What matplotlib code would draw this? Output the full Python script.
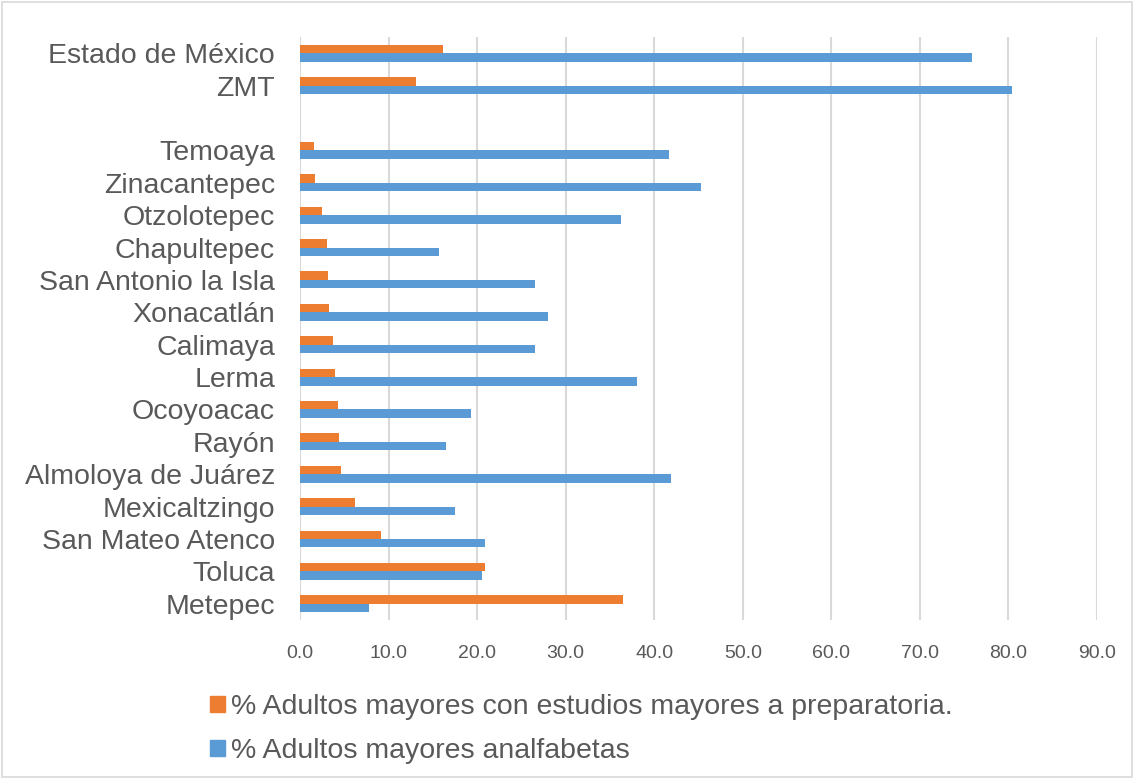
import matplotlib
matplotlib.use("Agg")
import matplotlib.pyplot as plt
from matplotlib.patches import Rectangle, Patch

# Categories listed bottom to top
categories = ["Metepec", "Toluca", "San Mateo Atenco", "Mexicaltzingo", "Almoloya de Juárez",
              "Rayón", "Ocoyoacac", "Lerma", "Calimaya", "Xonacatlán", "San Antonio la Isla",
              "Chapultepec", "Otzolotepec", "Zinacantepec", "Temoaya", "", "ZMT", "Estado de México"]
estudios = [36.5, 20.9, 9.1, 6.2, 4.6, 4.4, 4.3, 3.9, 3.7, 3.3, 3.2, 3.06, 2.5, 1.7, 1.6, None, 13.05, 16.2]
analfabetas = [7.8, 20.5, 20.9, 17.5, 41.9, 16.5, 19.3, 38.1, 26.5, 28.0, 26.5, 15.7, 36.2, 45.3, 41.7, None, 80.4, 75.9]
xticks = [0, 10, 20, 30, 40, 50, 60, 70, 80, 90]
series_names = ["% Adultos mayores con estudios mayores a preparatoria.", "% Adultos mayores analfabetas"]

ORANGE = "#ED7D31"
BLUE = "#5B9BD5"
TXT = "#595959"

plt.rcParams['font.family'] = ['Liberation Sans', 'DejaVu Sans']

fig = plt.figure(figsize=(11.34, 7.79), dpi=100)
fig.patches.append(Rectangle((0.002, 0.002), 0.996, 0.996, transform=fig.transFigure,
                             fill=False, edgecolor="#D9D9D9", linewidth=1.2))
ax = fig.add_axes([300/1134, 1-620/779, 797/1134, 583/779])

h = 0.26
ys = list(range(len(categories)))
eo_y = [y + h/2 for y, v in zip(ys, estudios) if v is not None]
eo_v = [v for v in estudios if v is not None]
an_y = [y - h/2 for y, v in zip(ys, analfabetas) if v is not None]
an_v = [v for v in analfabetas if v is not None]
ax.barh(an_y, an_v, height=h, color=BLUE, zorder=3)
ax.barh(eo_y, eo_v, height=h, color=ORANGE, zorder=3)

ax.set_xlim(0, 90)
ax.set_ylim(-0.5, len(categories) - 0.5)
ax.set_xticks(xticks)
ax.set_xticklabels([f"{t:.1f}" for t in xticks], fontsize=14, color=TXT)
ax.set_yticks(ys)
ax.set_yticklabels(categories, fontsize=20.5, color=TXT)
ax.tick_params(axis='both', length=0)
ax.tick_params(axis='x', pad=18)
ax.tick_params(axis='y', pad=18)
ax.grid(axis='x', color="#D9D9D9", linewidth=1.5, zorder=0)
for s in ax.spines.values():
    s.set_visible(False)

handles = [Patch(color=ORANGE), Patch(color=BLUE)]
fig.legend(handles, series_names, loc='upper left', bbox_to_anchor=(199/1134, 1-683/779),
           frameon=False, fontsize=20.5, labelcolor=TXT, handlelength=0.5, handleheight=0.5,
           handletextpad=0.22, labelspacing=0.62, borderaxespad=0)

fig.savefig("out.png", dpi=100)
